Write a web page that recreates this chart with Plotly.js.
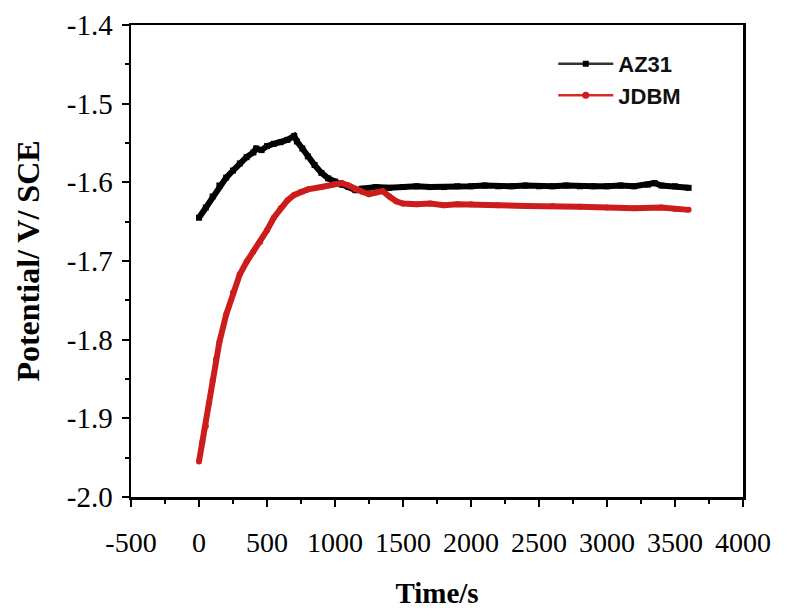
<!DOCTYPE html>
<html>
<head>
<meta charset="utf-8">
<script src="https://cdn.plot.ly/plotly-3.0.1.min.js"></script>
<style>html,body{margin:0;padding:0;background:#fff;}#chart{width:800px;height:609px;}</style>
</head>
<body>
<div id="chart"></div>
<script>
// AZ31 open-circuit potential (V vs SCE) over time (s)
const az31Time = [0,50,100,150,200,250,300,350,400,420,460,500,550,600,650,700,720,760,800,850,900,950,1000,1050,1100,1150,1200,1300,1400,1500,1600,1700,1800,1900,2000,2100,2200,2300,2400,2500,2600,2700,2800,2900,3000,3100,3200,3300,3350,3400,3500,3600];
const az31Pot  = [-1.645,-1.632,-1.618,-1.604,-1.594,-1.585,-1.576,-1.568,-1.562,-1.557,-1.559,-1.554,-1.551,-1.549,-1.546,-1.541,-1.548,-1.557,-1.567,-1.578,-1.588,-1.595,-1.599,-1.603,-1.606,-1.610,-1.608,-1.606,-1.607,-1.606,-1.605,-1.606,-1.606,-1.605,-1.605,-1.604,-1.605,-1.605,-1.604,-1.605,-1.605,-1.604,-1.605,-1.605,-1.605,-1.604,-1.605,-1.603,-1.601,-1.604,-1.605,-1.607];

// JDBM
const jdbmTime = [0,25,50,75,100,125,150,200,250,300,350,400,450,500,550,600,650,700,750,800,900,1000,1050,1100,1150,1200,1250,1300,1350,1400,1450,1500,1600,1700,1800,1900,2000,2200,2400,2600,2800,3000,3200,3400,3500,3600];
const jdbmPot  = [-1.955,-1.930,-1.910,-1.880,-1.852,-1.825,-1.803,-1.768,-1.740,-1.717,-1.701,-1.688,-1.676,-1.661,-1.645,-1.633,-1.623,-1.616,-1.612,-1.609,-1.606,-1.602,-1.601,-1.604,-1.609,-1.612,-1.615,-1.613,-1.611,-1.618,-1.624,-1.627,-1.628,-1.627,-1.629,-1.628,-1.628,-1.629,-1.630,-1.630,-1.631,-1.632,-1.633,-1.632,-1.634,-1.635];

const seriesNames = ["AZ31", "JDBM"];
const xTickVals = [-500,0,500,1000,1500,2000,2500,3000,3500,4000];
const xTickText = ["-500","0","500","1000","1500","2000","2500","3000","3500","4000"];
const yTickVals = [-2.0,-1.9,-1.8,-1.7,-1.6,-1.5,-1.4];
const yTickText = ["-2.0","-1.9","-1.8","-1.7","-1.6","-1.5","-1.4"];

const black = "#000000", red = "#cc1c1c";
const traces = [
  {x: az31Time, y: az31Pot, name: seriesNames[0], mode: "lines+markers", showlegend: false,
   line: {color: black, width: 6}, marker: {symbol: "square", size: 6, color: black}},
  {x: jdbmTime, y: jdbmPot, name: seriesNames[1], mode: "lines+markers", showlegend: false,
   line: {color: red, width: 6}, marker: {symbol: "circle", size: 6, color: red}},
  // legend entries (thin line + marker as in the original key)
  {x: [null], y: [null], name: seriesNames[0], mode: "lines+markers", legendgroup: "a",
   line: {color: "#333", width: 2.5}, marker: {symbol: "square", size: 6, color: black}},
  {x: [null], y: [null], name: seriesNames[1], mode: "lines+markers", legendgroup: "b",
   line: {color: "#d62a2a", width: 2.5}, marker: {symbol: "circle", size: 7, color: red}}
];

const serif = "Liberation Serif, Times New Roman, serif";
const layout = {
  width: 800, height: 609,
  margin: {l: 131, r: 57, t: 25, b: 112},
  paper_bgcolor: "#fff", plot_bgcolor: "#fff",
  showlegend: true,
  legend: {x: 0.69, y: 0.962, xanchor: "left", yanchor: "top", bgcolor: "rgba(0,0,0,0)",
           traceorder: "grouped", tracegroupgap: 0, itemwidth: 55,
           font: {family: "Liberation Sans, Arial, sans-serif", size: 22, color: "#111", weight: "bold"}},
  xaxis: {range: [-500, 4000], tickvals: xTickVals, ticktext: xTickText,
          showgrid: false, zeroline: false, showline: true, linecolor: "#000", linewidth: 2.5, mirror: true,
          ticks: "outside", ticklen: 7, tickwidth: 2, tickcolor: "#000", ticklabelstandoff: 12,
          minor: {dtick: 250, tick0: -500, ticks: "outside", ticklen: 4, tickwidth: 2, tickcolor: "#000"},
          tickfont: {family: serif, size: 28, color: "#000"},
          title: {text: "<b>Time/s</b>", font: {family: serif, size: 29, color: "#000"}, standoff: 28}},
  yaxis: {range: [-2.0, -1.4], tickvals: yTickVals, ticktext: yTickText,
          showgrid: false, zeroline: false, showline: true, linecolor: "#000", linewidth: 2.5, mirror: true,
          ticks: "outside", ticklen: 7, tickwidth: 2, tickcolor: "#000", ticklabelstandoff: 3,
          minor: {dtick: 0.05, tick0: -2.0, ticks: "outside", ticklen: 4, tickwidth: 2, tickcolor: "#000"},
          tickfont: {family: serif, size: 29, color: "#000"},
          title: {text: "<b>Potential/ V/ SCE</b>", font: {family: serif, size: 32, color: "#000"}, standoff: 18}}
};

Plotly.newPlot("chart", traces, layout, {displayModeBar: false, staticPlot: true});
</script>
</body>
</html>
